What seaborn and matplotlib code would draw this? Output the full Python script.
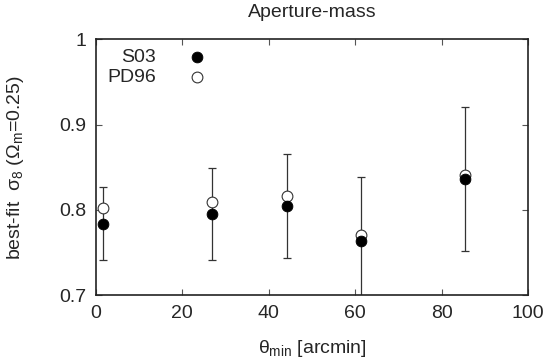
import numpy as np
import matplotlib
matplotlib.use("Agg")
import matplotlib.pyplot as plt
import seaborn as sns
import pandas as pd

theta_min = [1.6, 26.9, 44.2, 61.4, 85.5]
sigma8_s03 = [0.784, 0.795, 0.805, 0.763, 0.836]
sigma8_pd96 = [0.802, 0.809, 0.816, 0.771, 0.841]
err_low = [0.741, 0.741, 0.744, 0.690, 0.752]
err_high = [0.827, 0.849, 0.866, 0.839, 0.921]

df = pd.DataFrame({
    'theta': theta_min * 2,
    'sigma8': sigma8_s03 + sigma8_pd96,
    'fit': ['S03'] * 5 + ['PD96'] * 5,
})

sns.set_style("ticks")
plt.rcParams['font.family'] = ['Liberation Sans', 'DejaVu Sans']
plt.rcParams['mathtext.fontset'] = 'custom'
plt.rcParams['mathtext.rm'] = 'Liberation Sans'
plt.rcParams['mathtext.it'] = 'Liberation Sans'

fs = 14

fig = plt.figure(figsize=(5.48, 3.59), dpi=100)
ax = fig.add_axes([0.175, 0.178, 0.7885, 0.712])

s03 = np.array(sigma8_s03)
ax.errorbar(theta_min, s03,
            yerr=[s03 - np.array(err_low), np.array(err_high) - s03],
            fmt='none', ecolor='#333333', elinewidth=0.9, capsize=3, capthick=0.9)

# open circles (PD96) and filled circles (S03)
sns.scatterplot(data=df[df.fit == 'PD96'], x='theta', y='sigma8', marker='o',
                facecolor='white', edgecolor='#333333', linewidth=0.8, s=60,
                ax=ax, label='PD96', zorder=3)
sns.scatterplot(data=df[df.fit == 'S03'], x='theta', y='sigma8', marker='o',
                color='black', edgecolor='black', s=60, ax=ax, label='S03', zorder=4)

handles, labels = ax.get_legend_handles_labels()
order = [labels.index('S03'), labels.index('PD96')]
ax.legend([handles[i] for i in order], [labels[i] for i in order],
          loc='upper left', markerfirst=False, frameon=False, fontsize=fs,
          handletextpad=1.1, borderaxespad=0.2, labelspacing=0.1,
          bbox_to_anchor=(0.0, 1.01))

ax.set_xlim(0, 100)
ax.set_ylim(0.7, 1.0)
ax.set_xticks([0, 20, 40, 60, 80, 100])
ax.set_yticks([0.7, 0.8, 0.9, 1.0])
ax.set_yticklabels(['0.7', '0.8', '0.9', '1'])
ax.tick_params(direction='in', top=True, right=True, length=4, labelsize=fs,
               color='#555555', pad=7)
for sp in ax.spines.values():
    sp.set_linewidth(1.2)
    sp.set_color('#222222')

ax.set_title('Aperture-mass', fontsize=fs, pad=16)
ax.set_xlabel(r'$\theta_{\rm min}$ [arcmin]', fontsize=fs, labelpad=12)
ax.set_ylabel(r'best-fit  $\sigma_8$ ($\Omega_{\rm m}$=0.25)', fontsize=fs, labelpad=24)

fig.savefig('out.png', dpi=100)
